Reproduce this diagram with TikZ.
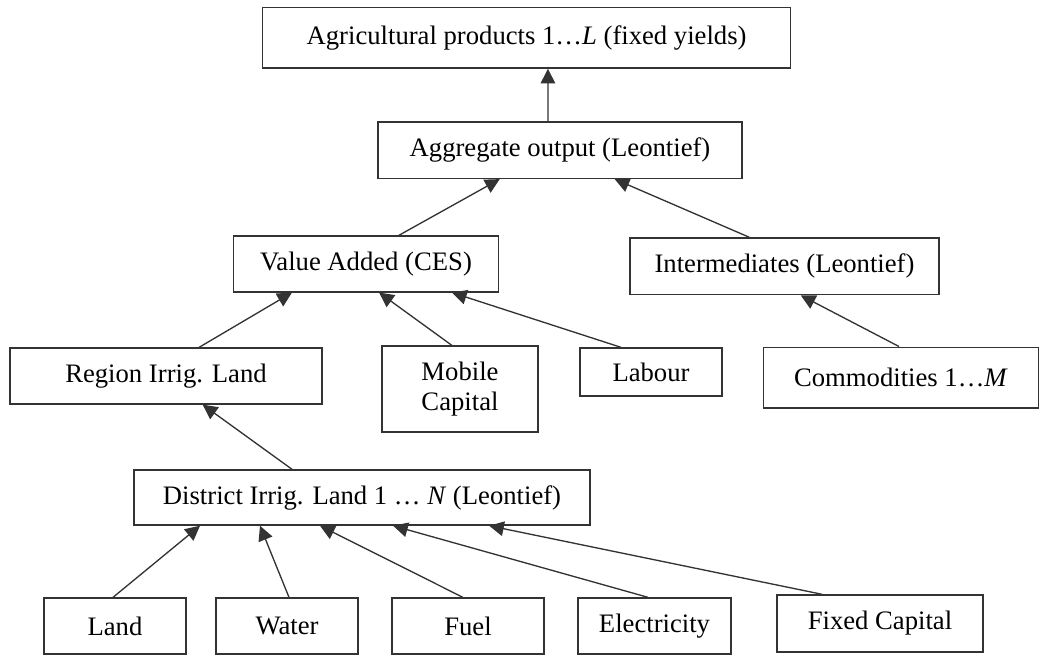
\documentclass[tikz,border=0pt]{standalone}
\usepackage{fontspec}
\setmainfont{Liberation Serif}
\usetikzlibrary{arrows.meta}

\begin{document}
\begin{tikzpicture}[x=0.45pt,y=-0.45pt,
  box/.style={draw=black!80,line width=0.6pt,inner sep=0pt,align=center,
    font=\fontsize{12}{13.5}\selectfont},
  feed/.style={draw=black!80,line width=0.6pt,
    -{Triangle[length=6.6pt,width=6.6pt]}}]

  \useasboundingbox (0,0) rectangle (1041,656);

  % top levels
  \node[box,minimum width=237.6pt,minimum height=27.3pt] (agri) at (526.6,37.8)
    {Agricultural products 1…\textit{L} (fixed yields)};
  \node[box,minimum width=163.8pt,minimum height=25.4pt] (aggr) at (560,150.2)
    {Aggregate output (Leontief)};
  \node[box,minimum width=119pt,minimum height=25.1pt] (va) at (366,264)
    {Value Added (CES)};
  \node[box,minimum width=139.1pt,minimum height=25.5pt] (inter) at (784.5,266.3)
    {Intermediates (Leontief)};

  % factors
  \node[box,minimum width=140.4pt,minimum height=25.2pt] (region) at (166,376)
    {Region Irrig. Land};
  \node[box,minimum width=70.2pt,minimum height=38.6pt] (mobile) at (460,389)
    {Mobile\\Capital};
  \node[box,minimum width=63.9pt,minimum height=21.6pt] (labour) at (651,372)
    {Labour};
  \node[box,minimum width=123.6pt,minimum height=27.3pt] (comm) at (901,377.5)
    {Commodities 1…\textit{M}};
  \node[box,minimum width=205.2pt,minimum height=24.8pt] (district) at (362,497.5)
    {District Irrig. Land 1 … \textit{N} (Leontief)};

  % district inputs
  \node[box,minimum width=63.9pt,minimum height=25.2pt] (land) at (115,626) {Land};
  \node[box,minimum width=63.9pt,minimum height=25.2pt] (water) at (287,626) {Water};
  \node[box,minimum width=68.4pt,minimum height=25.2pt] (fuel) at (468,626) {Fuel};
  \node[box,minimum width=68.9pt,minimum height=25.2pt] (elec) at (654.5,626) {Electricity};
  \node[box,minimum width=92.7pt,minimum height=25.7pt] (fixed) at (880,623.5) {Fixed Capital};

  \foreach \src/\dst/\a/\b in {aggr/agri/-5.4/9.6, va/aggr/14.7/-27.1,
      inter/aggr/-15.8/24.6, region/va/14.9/-33.3, mobile/va/-3.6/5.9,
      labour/va/-13.5/38.7, comm/inter/-0.9/7.3, district/region/-31.5/16.5,
      land/district/-0.9/-72.9, water/district/0.9/-45.9,
      fuel/district/-2.3/-18.9, elec/district/-2.9/14,
      fixed/district/-26.1/57.2}
    \draw[feed] ([xshift=\a pt]\src.north) -- ([xshift=\b pt]\dst.south);

\end{tikzpicture}
\end{document}
